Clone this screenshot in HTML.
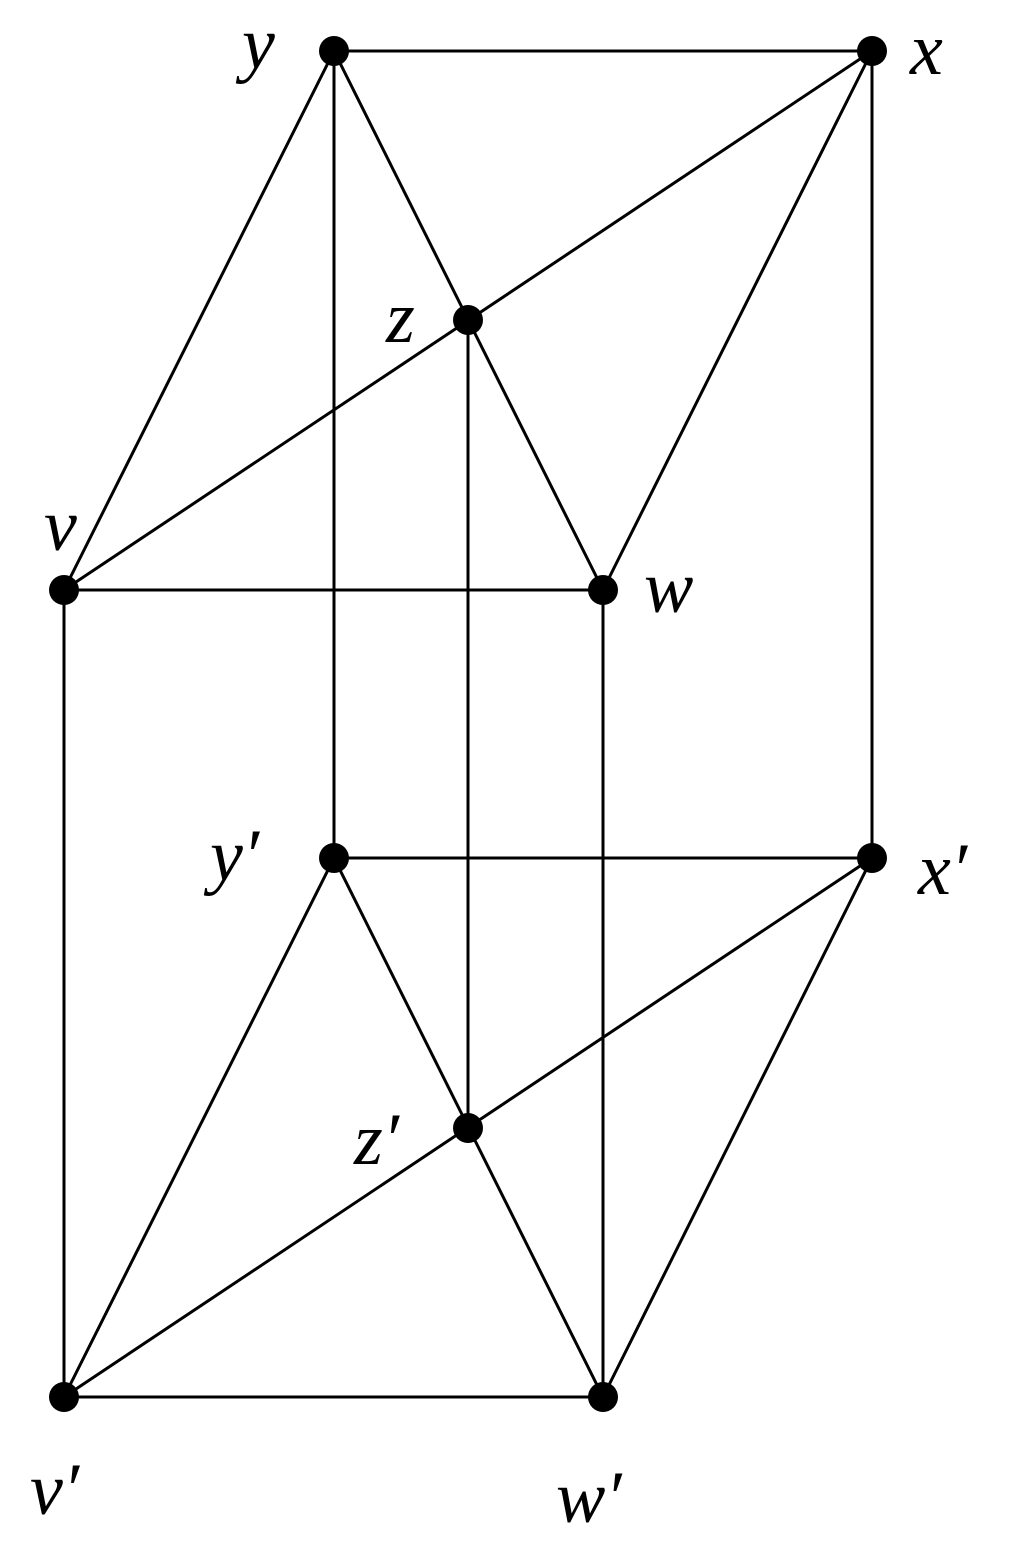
<!DOCTYPE html>
<html><head><style>html,body{margin:0;padding:0;background:#fff}</style></head><body>
<svg width="1024" height="1562" viewBox="0 0 1024 1562" xmlns="http://www.w3.org/2000/svg">
<g stroke="#000" stroke-width="3" fill="none">
<line x1="334" y1="51" x2="872" y2="51"/>
<line x1="334" y1="51" x2="64" y2="590"/>
<line x1="334" y1="51" x2="334" y2="858"/>
<line x1="334" y1="51" x2="603" y2="590"/>
<line x1="872" y1="51" x2="64" y2="590"/>
<line x1="872" y1="51" x2="603" y2="590"/>
<line x1="872" y1="51" x2="872" y2="858"/>
<line x1="468" y1="320" x2="468" y2="1128"/>
<line x1="64" y1="590" x2="603" y2="590"/>
<line x1="64" y1="590" x2="64" y2="1397"/>
<line x1="603" y1="590" x2="603" y2="1397"/>
<line x1="334" y1="858" x2="872" y2="858"/>
<line x1="334" y1="858" x2="64" y2="1397"/>
<line x1="334" y1="858" x2="603" y2="1397"/>
<line x1="872" y1="858" x2="64" y2="1397"/>
<line x1="872" y1="858" x2="603" y2="1397"/>
<line x1="64" y1="1397" x2="603" y2="1397"/>
</g>
<g fill="#000">
<circle cx="334" cy="51" r="15"/><circle cx="872" cy="51" r="15"/>
<circle cx="468" cy="320" r="15"/><circle cx="64" cy="590" r="15"/>
<circle cx="603" cy="590" r="15"/><circle cx="334" cy="858" r="15"/>
<circle cx="872" cy="858" r="15"/><circle cx="468" cy="1128" r="15"/>
<circle cx="64" cy="1397" r="15"/><circle cx="603" cy="1397" r="15"/>
</g>
<g font-family="Liberation Serif, serif" font-style="italic" font-size="74" fill="#000">
<text x="242" y="68">y</text>
<text x="910" y="74">x</text>
<text x="386" y="342">z</text>
<text x="44" y="550">v</text>
<text x="644" y="612">w</text>
<text x="210" y="880">y′</text>
<text x="918" y="894">x′</text>
<text x="354" y="1164">z′</text>
<text x="30" y="1514">v′</text>
<text x="556" y="1522">w′</text>
</g>
</svg>
</body></html>
